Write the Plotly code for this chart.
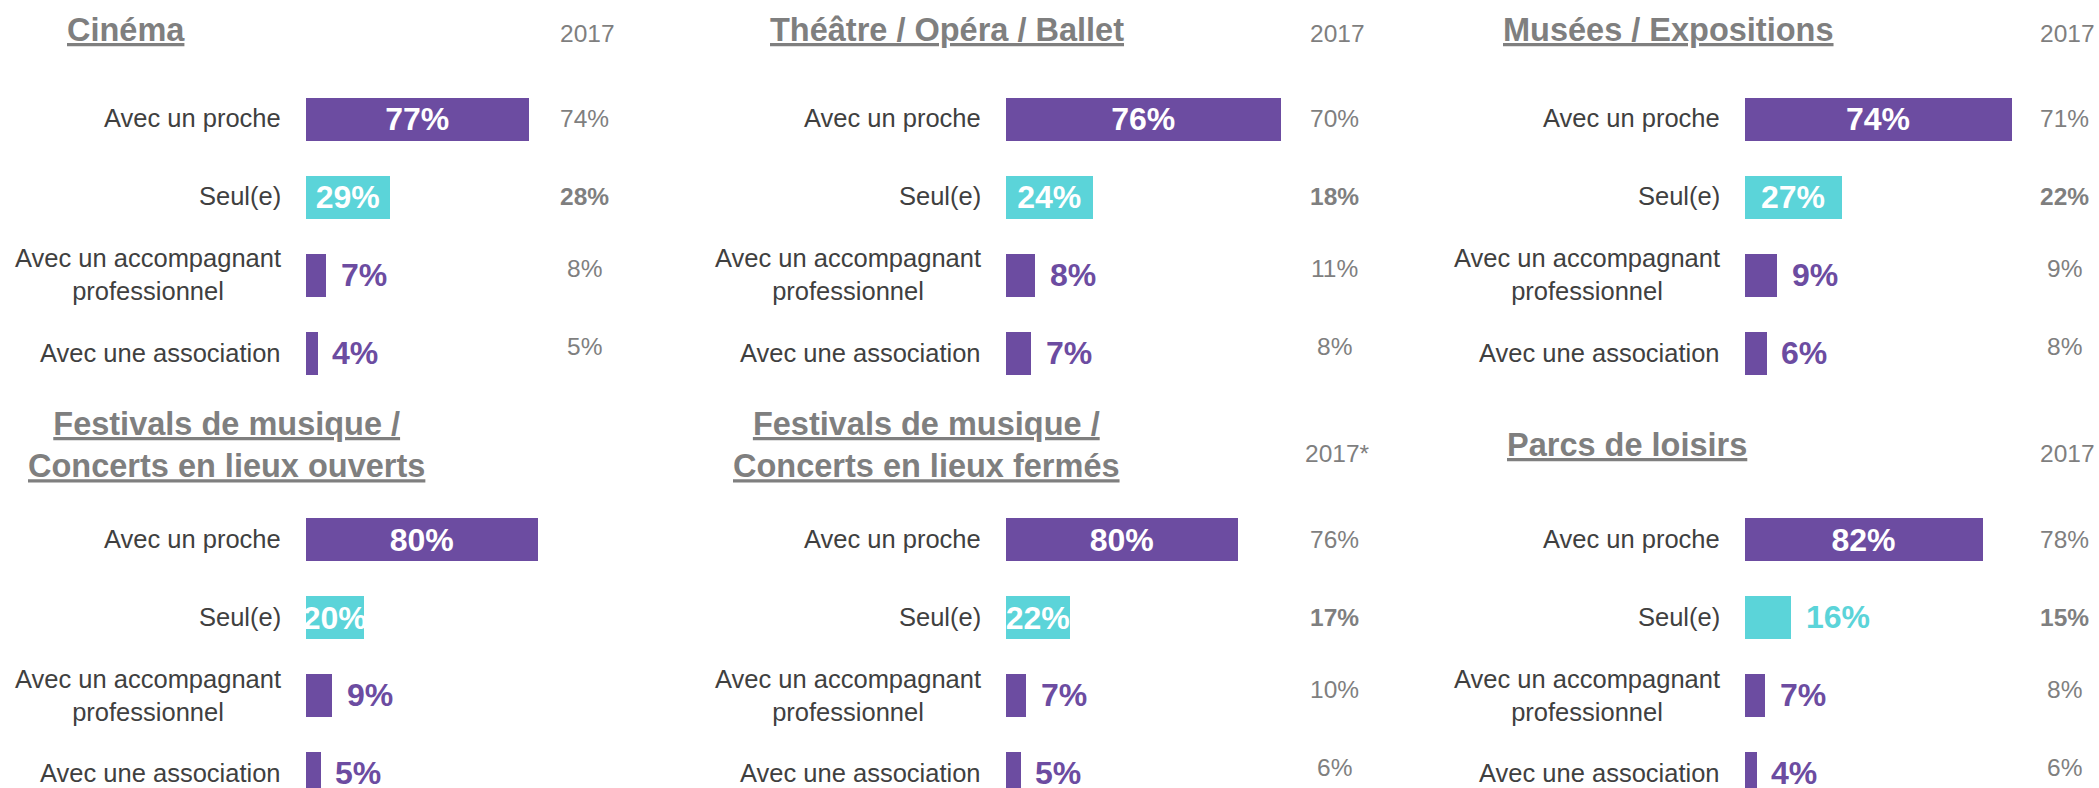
import plotly.graph_objects as go

# ---------------- data ----------------
categories = ["Avec un proche", "Seul(e)", "Avec un accompagnant<br>professionnel", "Avec une association"]
titles = ["Cinéma", "Théâtre / Opéra / Ballet", "Musées / Expositions",
          "Festivals de musique /<br>Concerts en lieux ouverts",
          "Festivals de musique /<br>Concerts en lieux fermés", "Parcs de loisirs"]
cinema = [77, 29, 7, 4]
theatre = [76, 24, 8, 7]
musees = [74, 27, 9, 6]
festivals_ouverts = [80, 20, 9, 5]
festivals_fermes = [80, 22, 7, 5]
parcs = [82, 16, 7, 4]
cinema_2017 = [74, 28, 8, 5]
theatre_2017 = [70, 18, 11, 8]
musees_2017 = [71, 22, 9, 8]
festivals_ouverts_2017 = []
festivals_fermes_2017 = [76, 17, 10, 6]
parcs_2017 = [78, 15, 8, 6]
headers_2017 = ["2017", "2017", "2017", "", "2017*", "2017"]

series = [cinema, theatre, musees, festivals_ouverts, festivals_fermes, parcs]
series_2017 = [cinema_2017, theatre_2017, musees_2017, festivals_ouverts_2017,
               festivals_fermes_2017, parcs_2017]

# ---------------- layout / style ----------------
W, H = 2099, 788
FONT = "Liberation Sans, Arial, sans-serif"
PURPLE = "#6C4CA1"
CYAN = "#5BD4D9"
TITLE_GRAY = "#7F7F7F"
LABEL_GRAY = "#404040"
PREV_GRAY = "#7F7F7F"
BAR_COLORS = [PURPLE, CYAN, PURPLE, PURPLE]

BAR_X0 = [305.7, 1005.7, 1744.5, 305.7, 1005.7, 1744.5]
PX_PER_PCT = [2.9, 3.62, 3.61, 2.9, 2.9, 2.9]
ROW0 = [118.5, 118.5, 118.5, 539, 539, 539]
PITCH = 78.0
BAR_H = 43.0
TITLE_X = [125.6, 946.5, 1668, 226, 926.5, 1627]
TITLE_Y = [30, 30, 30, 445, 445, 445]
COL_X = [584, 1334, 2064, 584, 1334, 2064]
HEAD_Y = [33, 33, 33, 453, 453, 453]
PREV_SHIFT = [0, 0, 6, 6]
XR = 90.0
INSIDE_MIN = 18


def px(x):
    return x / W


def py(y):
    return 1 - y / H


fig = go.Figure()
annotations = []
layout_axes = {}

for k in range(6):
    n = "" if k == 0 else str(k + 1)
    xa, ya = "x" + n, "y" + n
    vals = series[k]
    x0 = BAR_X0[k]
    x1 = x0 + PX_PER_PCT[k] * XR
    top = ROW0[k] - 0.5 * PITCH
    bottom = min(ROW0[k] + 3.5 * PITCH, H)
    layout_axes["xaxis" + n] = dict(domain=[px(x0), px(x1)], range=[0, XR], visible=False,
                                    anchor=ya, fixedrange=True)
    layout_axes["yaxis" + n] = dict(domain=[py(bottom), py(top)],
                                    range=[(bottom - ROW0[k]) / PITCH, -0.5],
                                    visible=False, anchor=xa, fixedrange=True)

    texts = [f"{v}%" if v >= INSIDE_MIN else "" for v in vals]
    fig.add_trace(go.Bar(
        x=vals, y=list(range(len(vals))), orientation="h", xaxis=xa, yaxis=ya,
        width=BAR_H / PITCH, marker=dict(color=BAR_COLORS, line=dict(width=0)),
        text=texts, textposition="inside", insidetextanchor="middle",
        textangle=0, constraintext="none",
        textfont=dict(family=FONT, size=32, color="white", weight="bold"),
        hoverinfo="skip", showlegend=False,
    ))

    for i, v in enumerate(vals):
        if v < INSIDE_MIN:
            annotations.append(dict(
                x=v, y=i, xref=xa, yref=ya, text=f"<b>{v}%</b>", showarrow=False,
                xanchor="left", yanchor="middle", xshift=13,
                font=dict(family=FONT, size=32, color=BAR_COLORS[i])))
        annotations.append(dict(
            x=px(x0 - 23), y=i, xref="paper", yref=ya, text=categories[i],
            showarrow=False, xanchor="right", yanchor="middle", align="center",
            font=dict(family=FONT, size=25.5, color=LABEL_GRAY)))

    prev = series_2017[k]
    for i, v in enumerate(prev):
        t = f"<b>{v}%</b>" if i == 1 else f"{v}%"
        annotations.append(dict(
            x=px(COL_X[k]), y=i, xref="paper", yref=ya, text=t, showarrow=False,
            xanchor="center", yanchor="middle", yshift=PREV_SHIFT[i],
            font=dict(family=FONT, size=24.5, color=PREV_GRAY)))
    if headers_2017[k]:
        annotations.append(dict(
            x=px(COL_X[k] + 3), y=py(HEAD_Y[k]), xref="paper", yref="paper",
            text=headers_2017[k], showarrow=False, xanchor="center", yanchor="middle",
            font=dict(family=FONT, size=24.5, color=PREV_GRAY)))

    annotations.append(dict(
        x=px(TITLE_X[k]), y=py(TITLE_Y[k]), xref="paper", yref="paper",
        text=titles[k], showarrow=False, xanchor="center", yanchor="middle",
        align="center",
        font=dict(family=FONT, size=32.5, color=TITLE_GRAY, weight="bold",
                  lineposition="under")))

fig.update_layout(
    width=W, height=H, margin=dict(l=0, r=0, t=0, b=0),
    paper_bgcolor="white", plot_bgcolor="white",
    showlegend=False, bargap=0, annotations=annotations, **layout_axes,
)

fig.write_html(
    "out.html",
    config={"displayModeBar": False},
    post_script="document.body.style.margin='0';document.body.style.overflow='hidden';",
)
